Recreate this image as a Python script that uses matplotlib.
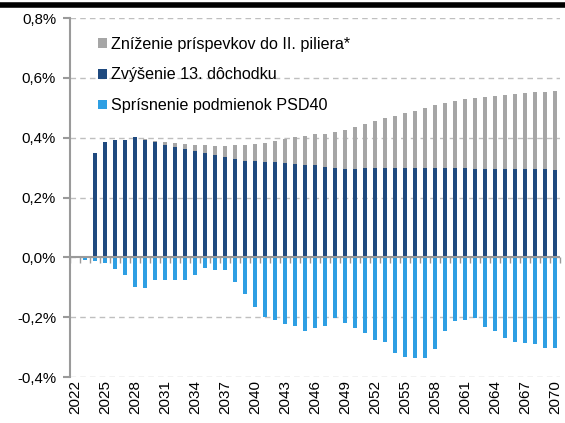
import numpy as np
import matplotlib
matplotlib.use("Agg")
import matplotlib.pyplot as plt
from matplotlib.ticker import FuncFormatter, MultipleLocator
from matplotlib.lines import Line2D

years = np.arange(2022, 2071)

# Zvýšenie 13. dôchodku (% HDP)
dochodok13 = [0.0, 0.0, 0.349, 0.384, 0.393, 0.393, 0.402, 0.393, 0.384, 0.377,
              0.370, 0.362, 0.357, 0.349, 0.341, 0.334, 0.330, 0.323, 0.321, 0.319,
              0.317, 0.316, 0.313, 0.310, 0.307, 0.301, 0.298, 0.296, 0.296, 0.298,
              0.298, 0.298, 0.300, 0.300, 0.300, 0.300, 0.300, 0.298, 0.298, 0.297,
              0.296, 0.296, 0.294, 0.294, 0.294, 0.294, 0.294, 0.294, 0.292]

# Zníženie príspevkov do II. piliera* (stacked above)
pilier2 = [0.0, 0.0, 0.0, 0.0, 0.0, 0.0, 0.0, 0.004, 0.004, 0.010,
           0.012, 0.018, 0.020, 0.025, 0.032, 0.039, 0.044, 0.051, 0.058, 0.063,
           0.072, 0.080, 0.089, 0.096, 0.105, 0.112, 0.122, 0.131, 0.140, 0.149,
           0.159, 0.168, 0.174, 0.183, 0.190, 0.199, 0.209, 0.219, 0.226, 0.232,
           0.237, 0.241, 0.246, 0.249, 0.252, 0.254, 0.257, 0.259, 0.264]

# Sprísnenie podmienok PSD40
psd40 = [0.0, -0.008, -0.013, -0.018, -0.040, -0.060, -0.099, -0.101, -0.076, -0.076,
         -0.076, -0.076, -0.060, -0.034, -0.041, -0.043, -0.082, -0.121, -0.166, -0.199,
         -0.208, -0.223, -0.230, -0.246, -0.237, -0.230, -0.202, -0.221, -0.236, -0.254,
         -0.277, -0.284, -0.321, -0.334, -0.336, -0.338, -0.307, -0.246, -0.213, -0.210,
         -0.204, -0.232, -0.246, -0.268, -0.282, -0.288, -0.290, -0.302, -0.304]

c_gray = "#A6A6A6"
c_dark = "#1F4A7F"
c_light = "#2E9FE3"

plt.rcParams['font.family'] = ['Liberation Sans', 'DejaVu Sans']

fig = plt.figure(figsize=(5.65, 4.23), dpi=100)
ax = fig.add_axes([70/565, 1 - 377/423, 490/565, 359/423])

w = 0.45
ax.bar(years, dochodok13, width=w, color=c_dark, zorder=3, label="Zvýšenie 13. dôchodku")
ax.bar(years, pilier2, width=w, bottom=dochodok13, color=c_gray, zorder=3,
       label="Zníženie príspevkov do II. piliera*")
ax.bar(years, psd40, width=w, color=c_light, zorder=3, label="Sprísnenie podmienok PSD40")

ax.set_xlim(years[0] - 0.5, years[-1] + 0.5)
ax.set_ylim(-0.4, 0.8)

# grid
ax.yaxis.set_major_locator(MultipleLocator(0.2))
ax.yaxis.grid(True, color="#BFBFBF", linestyle=(0, (4, 3)), linewidth=1, zorder=0)
ax.axhline(0, color="#9A9A9A", linewidth=1.5, zorder=4)
ax.yaxis.set_major_formatter(FuncFormatter(lambda v, p: f"{v:.1f}%".replace(".", ",")))

for s in ["right", "bottom"]:
    ax.spines[s].set_visible(False)
ax.spines["left"].set_color("#9A9A9A")
ax.spines["left"].set_linewidth(1.5)
# top spine used as category axis at zero (tick marks only)
ax.spines["top"].set_position(("data", 0))
ax.spines["top"].set_visible(False)

ax.set_xticks(years[::3])
ax.set_xticklabels([str(y) for y in years[::3]], rotation=90)
ax.set_xticks(np.append(years - 0.5, years[-1] + 0.5), minor=True)
ax.tick_params(axis="x", which="major", length=0, pad=2, labelsize=11, bottom=False, top=False)
ax.tick_params(axis="x", which="minor", top=True, bottom=False, direction="in",
               length=4, color="#9A9A9A", width=1)
ax.tick_params(axis="y", which="major", length=5, color="#9A9A9A", width=1.5, labelsize=10.8, pad=5)

handles, labels = ax.get_legend_handles_labels()
order = [1, 0, 2]
leg = ax.legend([handles[i] for i in order], [labels[i] for i in order],
                loc="upper left", bbox_to_anchor=(0.045, 0.966), frameon=False,
                fontsize=11.6, handlelength=0.55, handleheight=0.55, handletextpad=0.2,
                labelspacing=0.98, borderaxespad=0)

# dark rule at very top of the clipped figure
fig.add_artist(Line2D([0, 1], [1 - 5/423, 1 - 5/423], transform=fig.transFigure,
                      color="black", linewidth=4))

fig.savefig("out.png", dpi=100)
